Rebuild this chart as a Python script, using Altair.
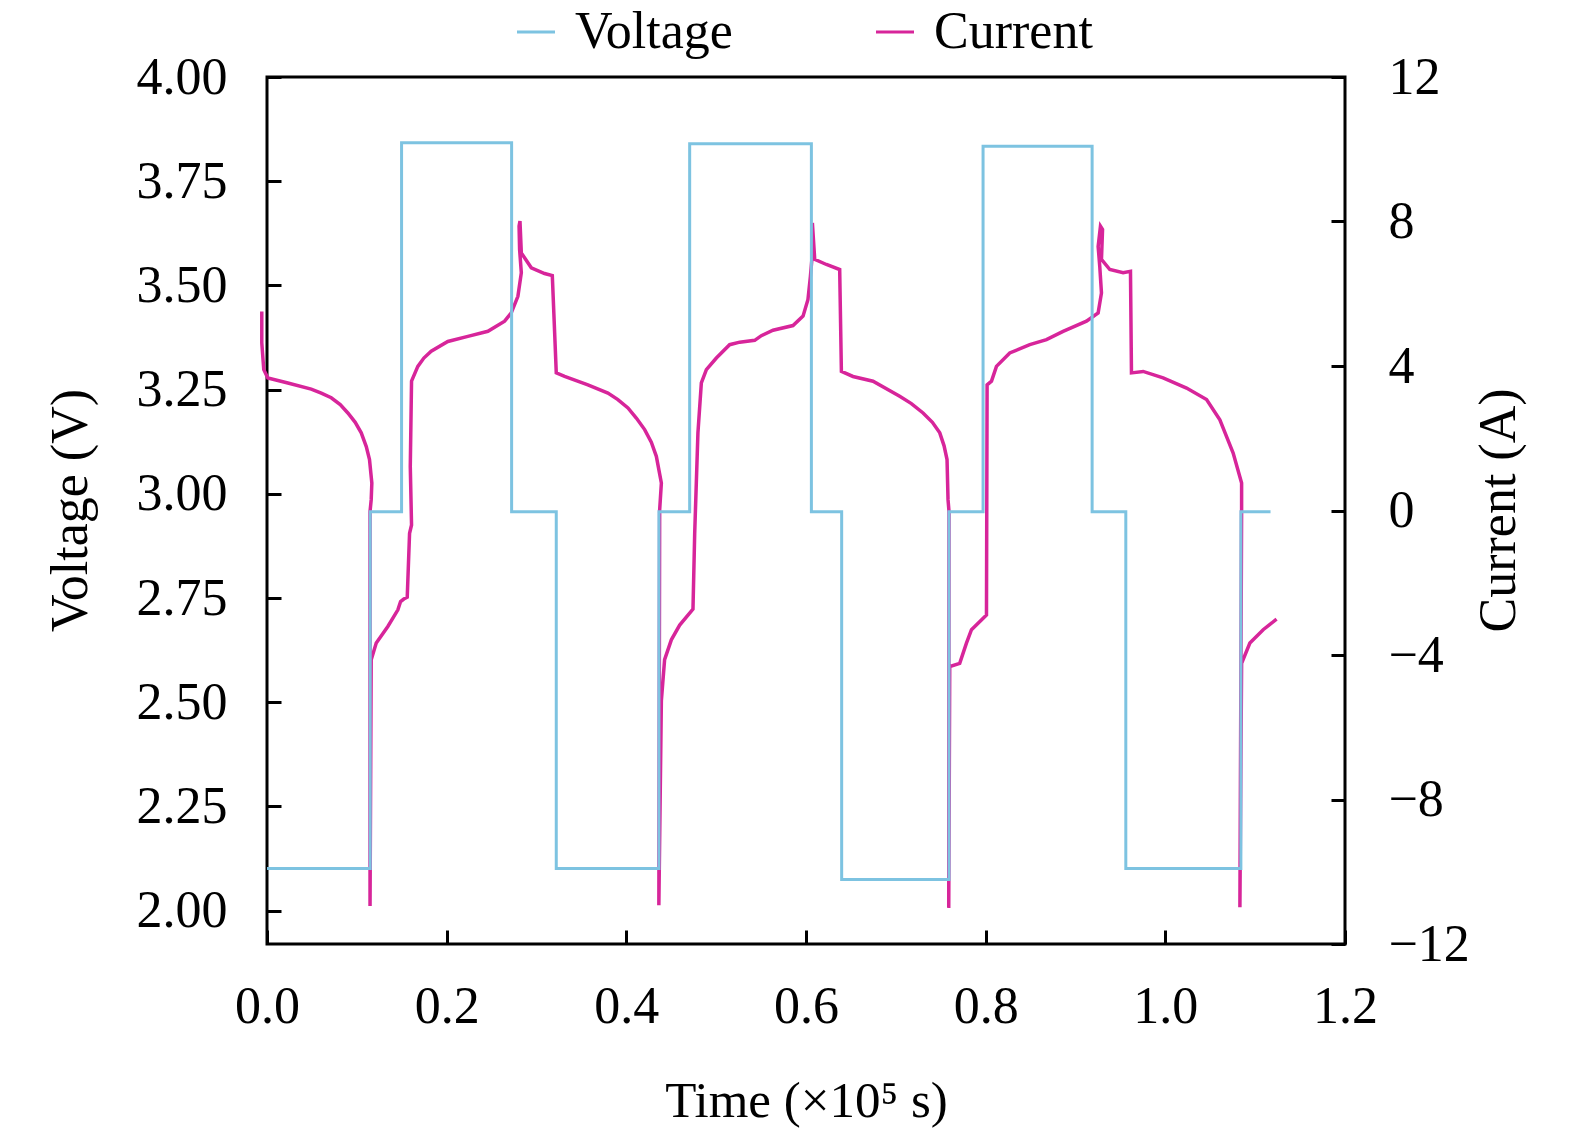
import altair as alt
import pandas as pd

FONT = "Liberation Serif"

# ---- Voltage (blue square wave): switch times (x10^5 s) and levels (V), step-after
volt_t = [0.0, 0.1149, 0.1498, 0.2723, 0.3220, 0.4363, 0.4705, 0.6060, 0.6397,
          0.7592, 0.7971, 0.9185, 0.9560, 1.0841, 1.1171]
volt_v = [2.101, 2.957, 3.842, 2.957, 2.101, 2.957, 3.840, 2.957, 2.075,
          2.957, 3.834, 2.957, 2.101, 2.957, 2.957]

# ---- Current (magenta trace): time (x10^5 s) and current (A), in drawing order
cur_t = [
    -0.0058, -0.0058, -0.0036, 0.0009, 0.0232, 0.0492, 0.0604, 0.0715, 0.0815, 0.0900, 0.0982, 0.1049,
    0.1105, 0.1141, 0.1167, 0.1160, 0.1147,
    0.1147,
    0.1160, 0.1216, 0.1345, 0.1457, 0.1487, 0.1523, 0.1561, 0.1587, 0.1609, 0.1595, 0.1609, 0.1679, 0.1746,
    0.1828, 0.2013, 0.2236, 0.2459, 0.2645, 0.2719, 0.2793, 0.2831, 0.2812, 0.2806, 0.2816, 0.2831, 0.2942,
    0.3090, 0.3176, 0.3202, 0.3220,
    0.3313, 0.3572, 0.3795, 0.3906, 0.4018, 0.4111, 0.4204, 0.4278, 0.4334, 0.4390, 0.4371,
    0.4362, 0.4390, 0.4426, 0.4501, 0.4594, 0.4742, 0.4761, 0.4797, 0.4835, 0.4891, 0.5002, 0.5150, 0.5262,
    0.5429, 0.5503, 0.5633, 0.5855, 0.5967, 0.6022, 0.6049, 0.6078, 0.6071, 0.6097, 0.6227, 0.6375, 0.6394,
    0.6523, 0.6746, 0.7043, 0.7173, 0.7303, 0.7407, 0.7489, 0.7537, 0.7570, 0.7581, 0.7592,
    0.7589, 0.7600, 0.7711, 0.7786, 0.7842, 0.8009, 0.8016, 0.8065, 0.8120, 0.8268, 0.8491, 0.8677, 0.8862,
    0.9122, 0.9252, 0.9289, 0.9270, 0.9252, 0.9278, 0.9301, 0.9289, 0.9382, 0.9530, 0.9612, 0.9623,
    0.9753, 0.9975, 1.0236, 1.0459, 1.0607, 1.0755, 1.0849, 1.0849,
    1.0830, 1.0849, 1.0941, 1.1089, 1.1238,
]
cur_i = [
    5.51, 4.64, 3.90, 3.67, 3.53, 3.36, 3.25, 3.12, 2.93, 2.70, 2.44, 2.15,
    1.77, 1.41, 0.76, 0.30, -0.03,
    -10.95,
    -4.13, -3.67, -3.21, -2.75, -2.52, -2.45, -2.40, -0.63, -0.40, 1.22, 3.58, 3.99, 4.22,
    4.41, 4.68, 4.82, 4.96, 5.24, 5.47, 5.93, 6.58, 7.22, 7.87, 8.01, 7.13, 6.72,
    6.56, 6.50, 4.92, 3.81,
    3.71, 3.48, 3.25, 3.07, 2.84, 2.56, 2.24, 1.89, 1.50, 0.76, 0.02,
    -10.93, -5.26, -4.13, -3.58, -3.17, -2.73, -0.63, 2.15, 3.53, 3.90, 4.22, 4.59, 4.66,
    4.71, 4.84, 4.99, 5.12, 5.38, 5.84, 6.48, 7.31, 7.96, 6.95, 6.81, 6.67, 3.85,
    3.71, 3.58, 3.16, 2.96, 2.70, 2.44, 2.15, 1.79, 1.41, 0.30, -0.03,
    -11.00, -4.32, -4.23, -3.67, -3.30, -2.89, 3.48, 3.58, 3.99, 4.36, 4.59, 4.73, 4.96,
    5.24, 5.47, 6.02, 6.76, 7.31, 7.87, 7.78, 6.95, 6.67, 6.58, 6.62, 3.81,
    3.85, 3.67, 3.39, 3.07, 2.51, 1.59, 0.76, 0.02,
    -10.98, -4.23, -3.67, -3.30, -3.01,
]

x_ticks = [0.0, 0.2, 0.4, 0.6, 0.8, 1.0, 1.2]
v_ticks = [2.0, 2.25, 2.5, 2.75, 3.0, 3.25, 3.5, 3.75, 4.0]
i_ticks = [-12, -8, -4, 0, 4, 8, 12]

volt_df = pd.DataFrame({"t": volt_t, "v": volt_v, "series": "Voltage"})
cur_df = pd.DataFrame({"t": cur_t, "i": cur_i, "idx": list(range(len(cur_t))), "series": "Current"})

TICK = alt.ExprRef(expr="-14")

common_axis = dict(
    grid=False, domain=False, tickColor="black", tickWidth=3, tickSize=TICK,
    labelFont=FONT, labelFontSize=52, labelColor="black", labelFlush=False, labelOverlap=False,
    titleFont=FONT, titleColor="black", titleFontWeight="normal",
)

x_enc = alt.X(
    "t:Q",
    scale=alt.Scale(domain=[0, 1.2], nice=False, zero=False),
    axis=alt.Axis(values=x_ticks, format=".1f", title="Time (×10⁵ s)", labelPadding=51,
                  titleFontSize=51, titleX=539, titleY=157, titleBaseline="middle",
                  titleAlign="center", **common_axis),
)

color_enc = alt.Color(
    "series:N",
    scale=alt.Scale(domain=["Voltage", "Current"], range=["#7DC3E1", "#D7259A"]),
    legend=alt.Legend(title=None, orient="none", legendX=243, legendY=-71, direction="horizontal",
                      symbolType="stroke", symbolSize=1444, symbolStrokeWidth=3,
                      labelFont=FONT, labelFontSize=52, labelColor="black", labelOffset=13,
                      columnPadding=136, padding=0),
)

pink = alt.Chart(cur_df).mark_line(strokeWidth=3.5).encode(
    x=x_enc,
    y=alt.Y("i:Q", scale=alt.Scale(domain=[-12, 12], nice=False, zero=False),
            axis=alt.Axis(orient="right", values=i_ticks, format="d", title="Current (A)",
                          labelPadding=57, labelAlign="left", titleFontSize=52,
                          titleX=153, titleY=433, titleAngle=270,
                          titleBaseline="middle", titleAlign="center", **common_axis)),
    order=alt.Order("idx:Q"),
    color=color_enc,
)

blue = alt.Chart(volt_df).mark_line(interpolate="step-after", strokeWidth=3).encode(
    x=x_enc,
    y=alt.Y("v:Q", scale=alt.Scale(domain=[1.92, 4.0], nice=False, zero=False),
            axis=alt.Axis(orient="left", values=v_ticks, format=".2f", title="Voltage (V)",
                          labelPadding=54, titleFontSize=52, titleX=-197, titleY=433, titleAngle=270,
                          titleBaseline="middle", titleAlign="center", **common_axis)),
    color=color_enc,
)

chart = (
    alt.layer(pink, blue)
    .resolve_scale(y="independent")
    .properties(width=1078, height=867, background="white",
                padding={"left": 259, "top": 69, "right": 215, "bottom": 184},
                autosize=alt.AutoSizeParams(type="none"))
    .configure_view(stroke="black", strokeWidth=3)
)

chart.save("out.html", embed_options={"renderer": "svg", "actions": False})
